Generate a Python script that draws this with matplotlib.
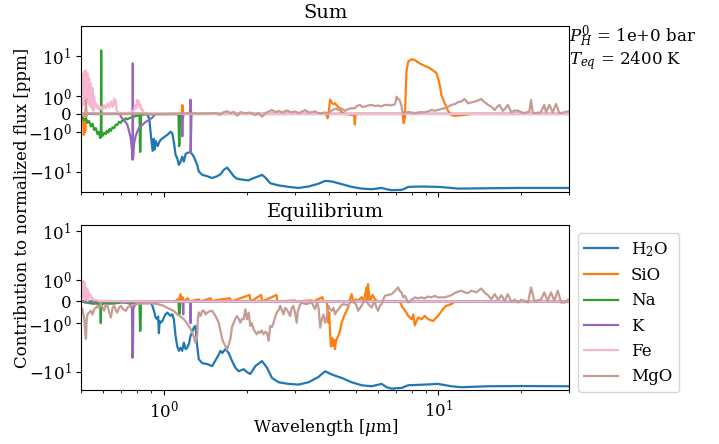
import numpy as np
import matplotlib
matplotlib.use('Agg')
import matplotlib.pyplot as plt
from matplotlib.ticker import NullLocator

plt.rcParams['font.family'] = 'serif'
plt.rcParams['font.serif'] = ['DejaVu Serif']
plt.rcParams['mathtext.fontset'] = 'dejavuserif'
plt.rcParams['font.size'] = 12

species = ['H$_2$O', 'SiO', 'Na', 'K', 'Fe', 'MgO']
colors = ['#1f77b4', '#ff7f0e', '#2ca02c', '#9467bd', '#f7b6d2', '#c49c94']

# (wavelength [um], contribution [ppm])
# --- Sum panel ---
sum_h2o = [(0.5, 0), (0.87, 0), (0.885, -0.3), (0.90, -1.6), (0.91, -3.0), (0.918, -1.5),
           (0.925, -2.8), (0.933, -1.7), (0.949, -2.3), (0.962, -1.8), (0.973, -1.6),
           (0.997, -1.4), (1.029, -1.2), (1.058, -1.0), (1.073, -1.1), (1.087, -1.8),
           (1.103, -3.8), (1.118, -4.6), (1.134, -6.8), (1.150, -5.6), (1.166, -4.2),
           (1.182, -5.6), (1.20, -3.6), (1.216, -3.4), (1.250, -3.2), (1.285, -4.2),
           (1.322, -6.8), (1.340, -9.9), (1.379, -12), (1.438, -13), (1.499, -14.4),
           (1.563, -13), (1.607, -11.6), (1.652, -9), (1.699, -7.9), (1.747, -10),
           (1.796, -13), (1.847, -15), (1.952, -16), (2.030, -16.5), (2.094, -15),
           (2.213, -13), (2.277, -12), (2.341, -14), (2.440, -19.5), (2.616, -22),
           (2.844, -24), (3.092, -25.5), (3.362, -23.5), (3.655, -20), (3.865, -17),
           (4.088, -17.6), (4.444, -20.5), (4.832, -24), (5.253, -26.5), (5.711, -27.5),
           (6.209, -25.5), (6.475, -27.5), (6.751, -29), (7.339, -28.5), (7.545, -26.5),
           (7.756, -24), (8.675, -23.5), (9.966, -24), (11.15, -25.5), (11.78, -26.5),
           (15.10, -26), (20.02, -25.5), (30.0, -25.5)]
sum_sio = [(0.5, 0), (0.507, -0.2), (0.511, -1.2), (0.514, -0.5), (0.517, -1.0), (0.521, -0.1),
           (0.526, 0), (1.16, 0), (1.168, 0.5), (1.176, 0), (1.24, 0), (1.25, 0.4), (1.26, 0),
           (3.90, 0), (3.95, -0.25), (3.99, 0.2), (4.03, 0.8), (4.08, 0.66), (4.14, 0.55),
           (4.20, 0.6), (4.30, 0.41), (4.38, 0.32), (4.44, 0.09), (4.56, 0), (4.85, -0.05),
           (4.93, -0.1), (4.96, -0.6), (4.99, 0), (7.30, 0), (7.40, 0.02), (7.47, -0.52),
           (7.55, -0.2), (7.60, 1.3), (7.65, 4.2), (7.76, 7.3), (7.98, 8.4), (8.20, 8.0),
           (8.55, 6.6), (8.92, 5.7), (9.17, 5.3), (9.43, 4.7), (9.83, 3.8), (9.97, 2.8),
           (10.11, 1.9), (10.25, 1.07), (10.54, 0.6), (10.84, 0.17), (11.15, -0.06),
           (11.46, -0.11), (12.4, -0.06), (13.2, 0), (30.0, 0)]
sum_na = [(0.5, -0.3), (0.506, -0.2), (0.513, -0.35), (0.52, -0.24), (0.527, -0.5),
          (0.534, -0.4), (0.542, -0.7), (0.55, -0.55), (0.557, -0.9), (0.565, -0.8),
          (0.573, -1.15), (0.58, -1.0), (0.586, -1.45), (0.5895, -1.3), (0.591, 14),
          (0.5925, -1.3), (0.599, -1.25), (0.606, -1.05), (0.614, -1.15), (0.62, -0.95),
          (0.627, -1.05), (0.634, -0.85), (0.641, -0.95), (0.65, -0.75), (0.659, -0.8),
          (0.668, -0.6), (0.677, -0.62), (0.686, -0.45), (0.696, -0.5), (0.706, -0.35),
          (0.716, -0.38), (0.726, -0.25), (0.736, -0.3), (0.757, -0.2), (0.778, -0.15),
          (0.800, -0.1), (0.815, -0.08), (0.819, -3.2), (0.821, -3.0), (0.825, -0.06),
          (0.835, -0.04), (0.870, -0.02), (1.10, -0.01), (1.13, -0.01), (1.136, -2.3),
          (1.14, -2.0), (1.145, -0.01), (1.16, 0), (30.0, 0)]
sum_k = [(0.5, 0), (0.69, 0), (0.70, -0.2), (0.716, -0.34), (0.736, -0.6), (0.750, -1.1),
         (0.757, -1.45), (0.764, -2.5), (0.767, -4.5), (0.769, -5.0), (0.7705, 6.6),
         (0.772, -4.5), (0.775, -2.8), (0.778, -2.0), (0.789, -1.3), (0.80, -1.0),
         (0.811, -0.8), (0.835, -0.62), (0.858, -0.45), (0.882, -0.35), (0.908, -0.2),
         (0.93, 0), (1.16, 0), (1.167, -1.3), (1.172, -0.3), (1.18, 0), (1.245, 0),
         (1.25, 0.8), (1.252, -3.4), (1.26, 0), (30.0, 0)]
sum_fe = [(0.5, 1.5), (0.502, 0.2), (0.503, 3.6), (0.505, 0.8), (0.507, 2.2), (0.509, 0.5),
          (0.511, 3.4), (0.513, 4.2), (0.515, 1.0), (0.517, 3.0), (0.519, 0.9), (0.520, 4.4),
          (0.522, 1.2), (0.524, 2.6), (0.526, 0.8), (0.527, 3.8), (0.529, 0.7), (0.530, 2.0),
          (0.532, 0.6), (0.534, 2.8), (0.536, 0.5), (0.538, 1.6), (0.540, 0.4), (0.542, 2.1),
          (0.544, 0.4), (0.546, 1.2), (0.548, 0.3), (0.549, 1.6), (0.551, 0.2), (0.553, 0.8),
          (0.555, 0.2), (0.557, 1.0), (0.561, 0.5), (0.565, 0.6), (0.569, 0.35), (0.573, 0.5),
          (0.58, 0.25), (0.589, 0.4), (0.597, 0.2), (0.606, 0.5), (0.614, 0.3), (0.623, 0.6),
          (0.632, 0.35), (0.641, 0.7), (0.650, 0.4), (0.659, 0.85), (0.664, 0.5), (0.668, 0.75),
          (0.673, 0.2), (0.677, 0.1), (0.70, 0.05), (0.74, 0.05), (0.76, 0.1), (0.778, 0.2),
          (0.786, 0.5), (0.793, 0.3), (0.80, 0.8), (0.806, 0.5), (0.811, 0.7), (0.817, 0.35),
          (0.823, 0.5), (0.829, 0.2), (0.835, 0.25), (0.846, 0.05), (0.86, 0), (30.0, 0)]
sum_mgo = [(0.5, 0), (0.512, 0.02), (0.517, -0.15), (0.52, 0.8), (0.523, -0.1), (0.527, 0.02),
           (0.6, 0), (0.8, 0.02), (1.0, 0), (1.2, 0.03), (1.4, 0.02), (1.55, 0.05), (1.6, -0.05),
           (1.65, 0.1), (1.70, 0.15), (1.75, 0.05), (1.80, 0.12), (1.85, -0.1), (1.90, 0.1),
           (1.98, 0.04), (2.06, 0.08), (2.153, -0.06), (2.21, 0.05), (2.277, -0.15), (2.35, 0.05),
           (2.42, 0.15), (2.476, 0.22), (2.55, 0.1), (2.616, 0.17), (2.70, 0.08), (2.80, 0.2),
           (2.90, 0.1), (3.008, 0.13), (3.1, 0.05), (3.18, 0.12), (3.27, 0.22), (3.35, 0.1),
           (3.46, 0.09), (3.55, 0.15), (3.65, 0.05), (3.75, 0.04), (3.85, 0.08), (3.97, 0.04),
           (4.05, 0.15), (4.15, 0.25), (4.25, 0.3), (4.32, 0.22), (4.45, 0.3), (4.56, 0.17),
           (4.7, 0.28), (4.85, 0.32), (4.96, 0.32), (5.05, 0.45), (5.17, 0.51), (5.28, 0.4),
           (5.40, 0.41), (5.55, 0.48), (5.71, 0.51), (5.87, 0.45), (6.03, 0.47), (6.2, 0.42),
           (6.35, 0.5), (6.55, 0.51), (6.75, 0.48), (6.93, 0.54), (7.0, 0.75), (7.04, 0.97),
           (7.12, 0.85), (7.22, 0.79), (7.32, 0.5), (7.40, 0.1), (7.44, 0.04), (7.545, 0.09),
           (7.9, 0.1), (8.2, 0.04), (8.55, 0.1), (8.916, 0.09), (9.2, 0.15), (9.43, 0.22),
           (9.7, 0.18), (9.966, 0.22), (10.25, 0.28), (10.54, 0.32), (10.84, 0.4), (11.15, 0.51),
           (11.46, 0.55), (11.78, 0.66), (12.1, 0.7), (12.45, 0.84), (12.81, 0.6), (13.2, 0.65),
           (13.54, 0.69), (13.9, 0.75), (14.31, 0.84), (14.6, 0.7), (14.9, 0.6), (15.2, 0.5),
           (15.57, 0.41), (16.03, 0.22), (16.35, 0.4), (16.69, 0.51), (17.16, 0.17), (17.5, 0.3),
           (17.89, 0.51), (18.43, 0.09), (19.0, 0.2), (19.58, 0.17), (20.55, 0.04), (21.0, 0.1),
           (21.43, 0.13), (21.74, 0.79), (22.05, 0.1), (22.35, 0.04), (23.6, 0.09), (24.3, 0.51),
           (24.65, 0.09), (25.35, 0.51), (26.07, 0.09), (26.8, 0.56), (27.56, 0.04), (28.7, 0.09),
           (30.0, 0.17)]

# --- Equilibrium panel ---
eq_h2o = [(0.5, 0), (0.88, 0), (0.895, -0.05), (0.908, -0.2), (0.920, -0.43), (0.933, -0.74),
          (0.946, -0.82), (0.953, -0.7), (0.959, -1.6), (0.965, -0.9), (0.973, -0.98),
          (0.987, -0.9), (1.0, -0.74), (1.014, -0.59), (1.029, -0.51), (1.043, -0.59),
          (1.058, -0.66), (1.073, -0.59), (1.087, -0.82), (1.103, -1.84), (1.118, -2.95),
          (1.134, -3.7), (1.150, -3.2), (1.166, -3.7), (1.182, -2.5), (1.20, -3.4),
          (1.216, -3.2), (1.235, -2.6), (1.250, -1.84), (1.285, -1.24), (1.303, -1.14),
          (1.322, -2.95), (1.340, -5.5), (1.379, -6.6), (1.438, -6.9), (1.499, -7.6),
          (1.541, -5.8), (1.584, -4.4), (1.607, -3.7), (1.630, -4.1), (1.675, -3.4),
          (1.722, -4.1), (1.772, -6.0), (1.821, -8.2), (1.872, -9.7), (1.952, -8.8),
          (2.008, -10.1), (2.064, -11), (2.153, -7.6), (2.277, -6.0), (2.374, -8.2),
          (2.476, -13.3), (2.616, -16.3), (2.844, -17.6), (3.092, -18.2), (3.362, -16.3),
          (3.655, -12.7), (3.865, -9.7), (4.088, -11.3), (4.444, -13.3), (4.832, -16.3),
          (5.253, -18.8), (5.711, -19.7), (6.209, -17.6), (6.475, -20.6), (6.751, -22),
          (7.339, -21.3), (7.756, -18.8), (8.916, -18.2), (9.966, -17.6), (11.15, -19.7),
          (12.12, -20.6), (15.14, -19.7), (20.02, -19.5), (30.0, -19.7)]
eq_sio = [(0.5, 0), (1.10, 0), (1.12, 0.1), (1.13, 0), (1.15, 0.34), (1.16, 0), (1.17, 0.2),
          (1.18, 0), (1.22, 0.15), (1.24, 0), (1.34, 0.1), (1.36, 0), (1.48, 0.15), (1.50, 0),
          (1.53, 0.05), (1.74, 0.15), (1.76, 0), (2.05, 0.3), (2.07, 0), (2.26, 0.3), (2.28, 0),
          (2.57, 0.3), (2.59, 0), (3.0, 0.05), (3.03, 0), (3.45, 0.05), (3.5, 0), (3.78, 0.2),
          (3.80, 0), (3.92, 0), (3.97, -0.98), (4.0, -0.5), (4.03, -1.6), (4.06, -3.0),
          (4.10, -2.0), (4.14, -2.9), (4.17, -2.2), (4.20, -3.4), (4.23, -2.5), (4.26, -2.1),
          (4.32, -1.8), (4.38, -1.45), (4.44, -0.98), (4.56, -0.59), (4.69, -0.28), (4.76, 0.1),
          (4.83, 0.34), (4.90, -0.05), (5.0, 0.1), (5.10, 0.05), (5.25, 0.2), (5.35, 0),
          (5.47, 0.65), (5.50, 0.1), (5.54, 0.8), (5.62, 0), (5.75, 0.3), (5.87, 0.1),
          (6.03, 0), (7.2, 0), (7.3, -0.1), (7.4, -0.28), (7.545, -0.4), (7.756, -0.66),
          (7.98, -0.82), (8.10, -0.6), (8.20, -1.11), (8.43, -0.74), (8.675, -0.82),
          (8.916, -0.66), (9.17, -0.82), (9.56, -0.9), (9.966, -0.66), (10.39, -0.36),
          (10.66, -0.2), (11.15, -0.12), (11.46, 0), (30.0, 0)]
eq_na = [(0.5, 0), (0.52, -0.05), (0.55, -0.1), (0.58, -0.1), (0.587, -0.3), (0.589, -1.0),
         (0.591, -0.2), (0.60, -0.1), (0.65, -0.1), (0.70, -0.05), (0.75, -0.05), (0.815, -0.1),
         (0.819, -1.45), (0.822, -1.3), (0.825, -0.05), (0.9, 0), (1.13, 0), (1.136, -0.6),
         (1.142, -0.55), (1.146, 0), (30.0, 0)]
eq_k = [(0.5, 0), (0.70, 0), (0.75, -0.1), (0.765, -0.3), (0.768, -5.1), (0.771, -4.5),
        (0.774, -0.3), (0.79, -0.1), (0.85, 0), (1.17, 0), (1.176, -0.6), (1.18, 0),
        (1.245, 0), (1.25, -1.0), (1.255, 0), (30.0, 0)]
eq_fe = [(0.5, 0.5), (0.502, 0.1), (0.503, 0.3), (0.505, 0.1), (0.507, 0.96), (0.509, 0.2),
         (0.510, 0.7), (0.512, 0.1), (0.513, 0.9), (0.515, 0.1), (0.517, 0.5), (0.519, 0.1),
         (0.520, 0.65), (0.522, 0.1), (0.524, 0.4), (0.526, 0.05), (0.527, 0.55), (0.529, 0.05),
         (0.531, 0.3), (0.534, 0.4), (0.538, 0.2), (0.542, 0.3), (0.546, 0.1), (0.55, 0.15),
         (0.557, 0.05), (0.565, 0.08), (0.58, 0.02), (0.62, 0.03), (0.7, 0.01), (1.0, 0),
         (30.0, 0)]
eq_mgo = [(0.5, -0.3), (0.505, -0.36), (0.513, -0.82), (0.516, -1.3), (0.520, -2.1), (0.523, -0.9),
          (0.527, -0.59), (0.535, -0.5), (0.542, -0.43), (0.550, -0.6), (0.557, -0.36),
          (0.565, -0.3), (0.573, -0.2), (0.580, -0.3), (0.589, -0.12), (0.597, -0.25),
          (0.606, -0.43), (0.614, -0.15), (0.623, -0.2), (0.632, -0.5), (0.641, -0.74),
          (0.650, -0.3), (0.659, -0.2), (0.668, -0.4), (0.677, -0.51), (0.686, -0.3),
          (0.696, -0.2), (0.71, -0.35), (0.726, -0.43), (0.74, -0.25), (0.757, -0.2),
          (0.78, -0.15), (0.800, -0.12), (0.82, -0.1), (0.846, -0.09), (0.87, -0.1),
          (0.895, -0.08), (0.92, -0.1), (0.946, -0.12), (0.97, -0.15), (1.0, -0.2),
          (1.03, -0.3), (1.058, -0.36), (1.09, -0.45), (1.118, -0.59), (1.15, -0.7),
          (1.182, -0.82), (1.21, -0.98), (1.232, -1.14), (1.25, -1.3), (1.268, -1.57),
          (1.285, -1.9), (1.303, -2.5), (1.312, -2.0), (1.322, -1.84), (1.33, -0.8),
          (1.34, -0.5), (1.359, -0.67), (1.38, -0.43), (1.397, -0.43), (1.42, -0.6),
          (1.438, -0.51), (1.47, -0.45), (1.499, -0.43), (1.541, -0.67), (1.584, -0.98),
          (1.61, -1.5), (1.630, -2.1), (1.655, -2.6), (1.675, -2.95), (1.699, -3.5),
          (1.72, -2.8), (1.747, -2.1), (1.77, -1.2), (1.796, -0.98), (1.82, -0.8),
          (1.847, -0.67), (1.872, -0.8), (1.899, -0.98), (1.925, -0.8), (1.952, -0.82),
          (1.98, -0.36), (2.008, -0.82), (2.036, -0.51), (2.064, -1.14), (2.09, -1.0),
          (2.122, -1.34), (2.15, -1.5), (2.181, -1.7), (2.21, -1.5), (2.243, -1.57),
          (2.27, -1.4), (2.306, -1.7), (2.34, -1.5), (2.374, -1.57), (2.407, -2.3),
          (2.44, -1.14), (2.475, -1.2), (2.509, -0.98), (2.545, -0.7), (2.579, -0.51),
          (2.615, -0.4), (2.651, -0.2), (2.69, -0.4), (2.726, -0.59), (2.765, -0.3),
          (2.803, -0.36), (2.84, -0.5), (2.882, -0.67), (2.92, -0.3), (2.963, -0.2),
          (3.0, -0.5), (3.046, -0.98), (3.07, -0.5), (3.092, -0.36), (3.13, -0.15),
          (3.18, -0.05), (3.25, -0.1), (3.31, -0.12), (3.38, -0.08), (3.46, -0.05),
          (3.50, -0.2), (3.55, -0.36), (3.61, -0.05), (3.66, -0.3), (3.71, -1.24),
          (3.76, -0.82), (3.81, -0.6), (3.865, -0.98), (3.92, -0.7), (3.97, -0.2),
          (4.03, -0.35), (4.09, -0.43), (4.15, -0.3), (4.20, -0.59), (4.26, -0.45),
          (4.32, -0.36), (4.41, -0.2), (4.50, -0.12), (4.60, -0.15), (4.69, -0.2),
          (4.76, -0.05), (4.83, 0.03), (4.90, 0.0), (4.96, -0.05), (5.03, -0.2), (5.10, -0.43),
          (5.18, -0.3), (5.25, -0.2), (5.32, -0.05), (5.40, 0.11), (5.47, 0.0), (5.55, -0.12),
          (5.63, -0.2), (5.71, -0.28), (5.79, -0.1), (5.87, -0.05), (5.95, -0.3), (6.03, -0.43),
          (6.12, -0.2), (6.21, -0.12), (6.30, 0.1), (6.38, 0.26), (6.55, 0.3), (6.75, 0.34),
          (6.9, 0.45), (7.04, 0.57), (7.13, 0.65), (7.22, 0.5), (7.34, 0.42), (7.44, 0.2),
          (7.545, 0.26), (7.76, -0.05), (7.98, 0.08), (8.20, 0.19), (8.43, 0.14), (8.675, 0.19),
          (8.916, 0.14), (9.17, 0.23), (9.43, 0.19), (9.70, 0.26), (9.97, 0.19), (10.54, 0.19),
          (11.15, 0.29), (11.46, 0.39), (11.78, 0.45), (12.12, 0.5), (12.45, 0.42),
          (12.81, 0.39), (13.18, 0.5), (13.73, 0.42), (14.31, 0.6), (14.70, 0.42),
          (15.14, 0.29), (15.57, 0.11), (16.03, 0.34), (16.49, 0.08), (16.96, 0.29),
          (17.42, 0.03), (17.89, 0.34), (18.43, -0.02), (18.97, 0.08), (19.53, -0.05),
          (20.02, 0.08), (20.6, 0.03), (21.2, -0.05), (21.74, 0.65), (22.35, 0.03),
          (23.6, 0.08), (24.3, 0.42), (24.98, 0.03), (25.7, 0.42), (26.43, 0.03), (27.2, 0.5),
          (27.98, -0.05), (28.8, -0.05), (29.6, 0.08), (30.0, 0.08)]

sum_series = [sum_h2o, sum_sio, sum_na, sum_k, sum_fe, sum_mgo]
eq_series = [eq_h2o, eq_sio, eq_na, eq_k, eq_fe, eq_mgo]

fig = plt.figure(figsize=(7.19, 4.44), dpi=100)
ax1 = fig.add_axes([0.113, 0.5676, 0.679, 0.3739])
ax2 = fig.add_axes([0.113, 0.1216, 0.679, 0.3716], sharex=ax1)

panels = [(ax1, 'Sum', sum_series, (-32.2, 57)),
          (ax2, 'Equilibrium', eq_series, (-23.5, 13.3))]
for ax, title, series, ylim in panels:
    for name, col, data in zip(species, colors, series):
        d = np.array(data, dtype=float)
        ax.plot(d[:, 0], d[:, 1], color=col, lw=1.6, label=name)
    ax.set_xscale('log')
    ax.set_yscale('symlog', linthresh=1, linscale=0.4)
    ax.yaxis.set_minor_locator(NullLocator())
    ax.set_ylim(*ylim)
    ax.set_title(title, fontsize=14)

ax1.set_xlim(0.5, 30)
plt.setp(ax1.get_xticklabels(), visible=False)
ax2.set_xlabel(r'Wavelength [$\mu$m]', labelpad=-3)
fig.text(0.031, 0.532, 'Contribution to normalized flux [ppm]', rotation=90,
         va='center', ha='center')
# two separate lines so the spacing stays tight like the original
ax1.text(1.0, 0.935, '$P_H^0$ = 1e+0 bar', transform=ax1.transAxes, va='center', ha='left')
ax1.text(1.0, 0.79, '$T_{eq}$ = 2400 K', transform=ax1.transAxes, va='center', ha='left')
ax2.legend(loc='upper left', bbox_to_anchor=(1.0, 1.0))

fig.savefig('out.png', dpi=100)
